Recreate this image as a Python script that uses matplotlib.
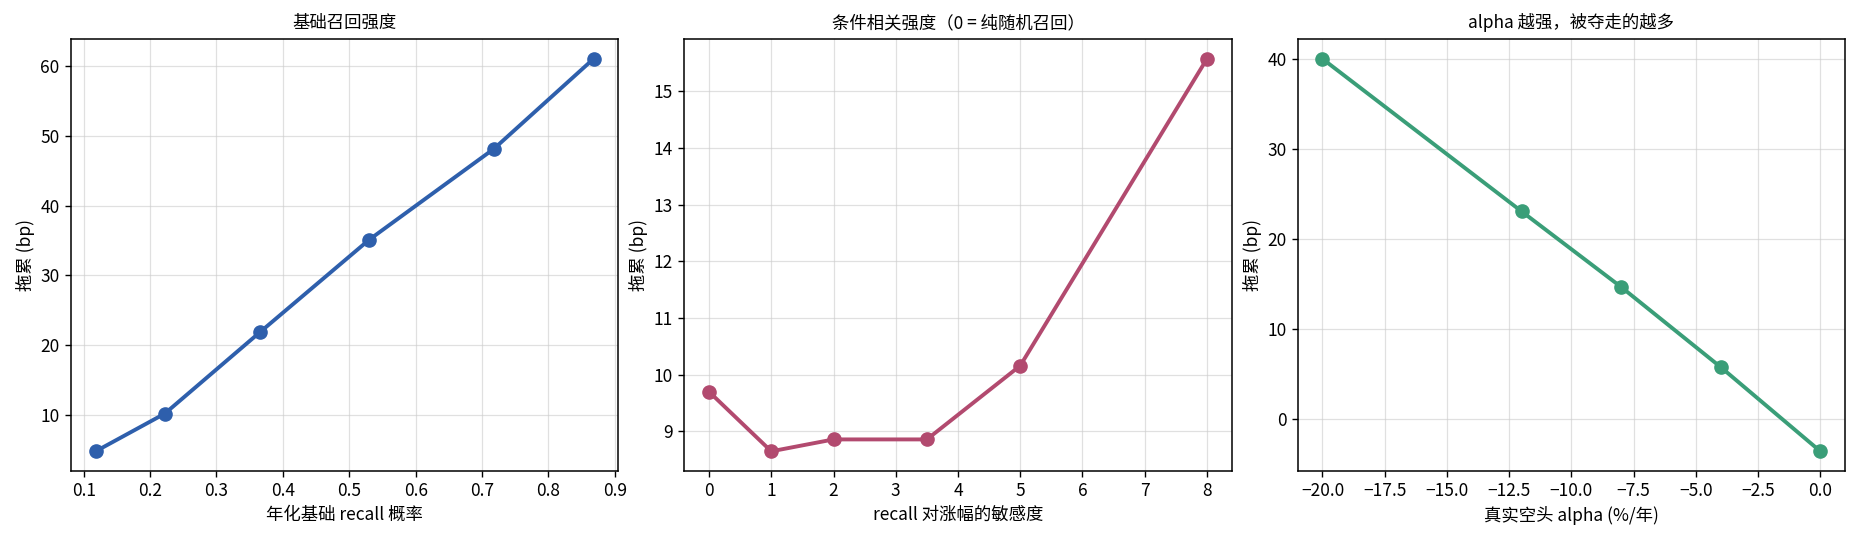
import matplotlib
matplotlib.use('Agg')
import matplotlib.pyplot as plt
from matplotlib.ticker import MultipleLocator

plt.rcParams['font.family'] = ['Noto Sans CJK SC', 'DejaVu Sans']
plt.rcParams['axes.unicode_minus'] = True

# panel 1: base recall intensity
recallProb = [0.118, 0.222, 0.365, 0.530, 0.718, 0.868]
dragBase = [4.75, 10.15, 21.8, 35.1, 48.15, 61.05]

# panel 2: conditional correlation strength
sensitivity = [0, 1, 2, 3.5, 5, 8]
dragSens = [9.70, 8.65, 8.86, 8.86, 10.16, 15.57]

# panel 3: true short alpha
shortAlpha = [-20, -12, -8, -4, 0]
dragAlpha = [40.05, 23.1, 14.7, 5.8, -3.55]

titles = ['基础召回强度', '条件相关强度（0 = 纯随机召回）', 'alpha 越强，被夺走的越多']
xlabels = ['年化基础 recall 概率', 'recall 对涨幅的敏感度', '真实空头 alpha (%/年)']
colors = ['#2e5fac', '#b24a6f', '#3a9e78']

fig, axes = plt.subplots(1, 3, figsize=(18.62, 5.37), dpi=100)
series = [(recallProb, dragBase), (sensitivity, dragSens), (shortAlpha, dragAlpha)]

for ax, (xs, ys), title, xl, c in zip(axes, series, titles, xlabels, colors):
    ax.plot(xs, ys, marker='o', color=c, lw=2.8, ms=9.5)
    ax.set_title(title, fontsize=12.5, pad=8)
    ax.set_xlabel(xl, fontsize=12.5)
    ax.set_ylabel('拖累 (bp)', fontsize=12.5)
    ax.tick_params(labelsize=12.5, width=1.0, length=4.5)
    ax.grid(True, color='#cccccc', alpha=0.6, lw=0.9)
    for s in ax.spines.values():
        s.set_linewidth(1.1)

axes[1].xaxis.set_major_locator(MultipleLocator(1))

plt.subplots_adjust(left=0.038, right=0.991, bottom=0.123, top=0.927, wspace=0.12)
plt.savefig('out.png', dpi=100)
